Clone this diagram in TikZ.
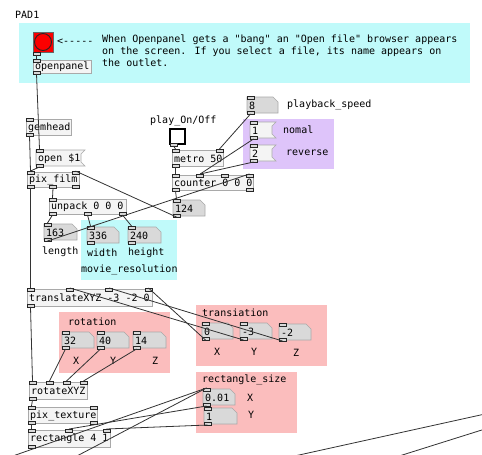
\documentclass[tikz,border=0pt]{standalone}
\usepackage{fontspec}
\newfontfamily\pdfont{DejaVu Sans Mono}
\usetikzlibrary{positioning}
\definecolor{Cyan}{HTML}{C0FAFA}
\definecolor{Lilac}{HTML}{DEC4FA}
\definecolor{Pink}{HTML}{FBBDBD}
\definecolor{NumFill}{HTML}{D9D9D9}
\definecolor{ObjFill}{HTML}{F4F4F4}
\definecolor{BoxLine}{HTML}{A9A9A9}
\definecolor{Wire}{HTML}{333333}
\definecolor{BangRed}{HTML}{FC0000}

\newcommand{\pdports}[7]{%
  \foreach \k in {1,...,#6}{%
    \pgfmathsetmacro{\px}{#2+(\k-1)*(#4-7)/max(#6-1,1)}%
    \draw[port] (\px,#3-1) rectangle ++(7,3);
    \coordinate (#1-i\k) at (\px+3.5,#3-1);
  }%
  \foreach \k in {1,...,#7}{%
    \pgfmathsetmacro{\px}{#2+(\k-1)*(#4-7)/max(#7-1,1)}%
    \draw[port] (\px,#3+#5-2) rectangle ++(7,3);
    \coordinate (#1-o\k) at (\px+3.5,#3+#5+1);
  }%
}
\newcommand{\pdobj}[8]{%
  \node[pdbox, fill=ObjFill, draw=BoxLine, minimum width=#4pt, minimum height=#5pt] (#1) at (#2,#3) {};
  \node[pdtext] (#1-t) at (#2+2,#3+#5/2+0.5) {#8};
  \pdports{#1}{#2}{#3}{#4}{#5}{#6}{#7}}
\newcommand{\pdnum}[5]{%
  \fill[numfill] (#2,#3) -- ++(#4-5,0) -- ++(5,5) -- (#2+#4,#3+16) -- (#2,#3+16) -- cycle;
  \node[pdbox, minimum width=#4pt, minimum height=16pt] (#1) at (#2,#3) {};
  \node[pdtext] (#1-t) at (#2+2,#3+8.5) {#5};
  \pdports{#1}{#2}{#3}{#4}{16}{1}{1}}
\newcommand{\pdmsg}[5]{%
  \fill[msgfill] (#2,#3) -- ++(#4+4,0) -- ++(-4,4) -- ++(0,8) -- ++(4,4) -- (#2,#3+16) -- cycle;
  \node[pdbox, minimum width=#4pt, minimum height=16pt] (#1) at (#2,#3) {};
  \node[pdtext] (#1-t) at (#2+2,#3+8.5) {#5};
  \pdports{#1}{#2}{#3}{#4}{16}{1}{1}}

\begin{document}
\begin{tikzpicture}[x=1pt,y=-1pt,
  pdbox/.style={anchor=north west, inner sep=0, outer sep=0},
  pdtext/.style={font=\pdfont\fontsize{10}{12}\selectfont, inner sep=0, anchor=west},
  port/.style={draw=black!85, fill=black!15, line width=0.6pt},
  numfill/.style={fill=NumFill, draw=BoxLine, line width=0.6pt},
  msgfill/.style={fill=ObjFill, draw=BoxLine, line width=0.6pt},
  wire/.style={draw=Wire, line width=0.8pt}]
  \useasboundingbox (0,0) rectangle (482,455);
  \clip (0,0) rectangle (482,455);
  \fill[white] (0,0) rectangle (482,455);
  % canvases
  \fill[Cyan] (19,23) rectangle (470,83);
  \fill[Lilac] (243,119) rectangle (334,169);
  \fill[Cyan] (81,220) rectangle (177,280);
  \fill[Pink] (59,312) rectangle (170,373);
  \fill[Pink] (196,305) rectangle (327,366);
  \fill[Pink] (196,372) rectangle (297,433);
  % comments
  \node[pdtext] (pad) at (15,15) {PAD1};
  \node[pdtext] (arrow) at (57,42) {<-----};
  \node[pdtext, align=left, anchor=north west] (note) at (102,35)
    {When Openpanel gets a "bang" an "Open file" browser appears\\
     on the screen. If you select a file, its name appears on\\
     the outlet.};
  \node[pdtext] (speed) at (287,105) {playback\_speed};
  \node[pdtext] (play) at (150,121) {play\_On/Off};
  \node[pdtext] (normal) at (283,130) {nomal};
  \node[pdtext] (rev) at (286,153) {reverse};
  \node[pdtext] (len) at (42,252) {length};
  \node[pdtext] (wid) at (87,253) {width};
  \node[pdtext] (hei) at (128,253) {height};
  \node[pdtext] (res) at (81,270) {movie\_resolution};
  \node[pdtext] (rotlab) at (68,322) {rotation};
  \node[pdtext] (rx) at (73,361) {X};
  \node[pdtext] (ry) at (110,361) {Y};
  \node[pdtext] (rz) at (152,361) {Z};
  \node[pdtext] (trlab) at (202,313) {transiation};
  \node[pdtext] (tx) at (214,352) {X};
  \node[pdtext] (ty) at (251,352) {Y};
  \node[pdtext] (tz) at (293,353) {Z};
  \node[pdtext] (szlab) at (202,380) {rectangle\_size};
  \node[pdtext] (sx) at (247,398) {X};
  \node[pdtext] (sy) at (248,415) {Y};
  % gui
  \node[pdbox, minimum size=20pt, fill=BangRed, draw=black!60] (bang) at (33,32) {};
  \node[circle, inner sep=0, minimum size=17pt, fill=BangRed, draw=black!85, line width=0.9pt] (bang-c) at (bang.center) {};
  \draw[port] (33,52) rectangle ++(7,3);
  \coordinate (bang-o1) at (36.5,55);
  \node[pdbox, minimum size=15pt, fill=white, draw=black, line width=1.3pt] (tgl) at (170,129) {};
  \draw[port] (170,143) rectangle ++(7,3);
  \coordinate (tgl-o1) at (173.5,146);
  % boxes
  \pdobj{openp}{33}{60}{58}{13}{1}{1}{openpanel}
  \pdobj{gem}{26}{119}{45}{16}{1}{1}{gemhead}
  \pdmsg{open}{36}{150}{45}{open \$1}
  \pdobj{film}{27}{172}{52}{15}{2}{3}{pix\_film}
  \pdobj{unpack}{49}{199}{77}{15}{1}{3}{unpack 0 0 0}
  \pdnum{n163}{44}{224}{33}{163}
  \pdnum{n336}{87}{227}{32}{336}
  \pdnum{n240}{128}{227}{33}{240}
  \pdnum{n8}{247}{97}{31}{8}
  \pdmsg{m1}{250}{122}{22}{1}
  \pdmsg{m2}{250}{145}{22}{2}
  \pdobj{metro}{172}{150}{51}{16}{2}{1}{metro 50}
  \pdobj{counter}{172}{175}{81}{15}{4}{2}{counter 0 0 0}
  \pdnum{n124}{173}{200}{32}{124}
  \pdobj{trans}{27}{289}{125}{17}{4}{1}{translateXYZ -3 -2 0}
  \pdnum{n32}{62}{332}{32}{32}
  \pdnum{n40}{97}{332}{32}{40}
  \pdnum{n14}{133}{332}{33}{14}
  \pdnum{nx}{202}{323}{31}{0}
  \pdnum{ny}{240}{323}{32}{-3}
  \pdnum{nz}{279}{324}{32}{-2}
  \pdnum{sw}{203}{389}{32}{0.01}
  \pdnum{sh}{204}{408}{33}{1}
  \pdobj{rot}{29}{382}{58}{17}{4}{1}{rotateXYZ}
  \pdobj{tex}{28}{407}{69}{16}{2}{2}{pix\_texture}
  \pdobj{rect}{28}{430}{82}{17}{3}{1}{rectangle 4 1}
  % free ends
  \coordinate (offA) at (10,457);
  \coordinate (offB) at (75,457);
  \coordinate (offC) at (290,457);
  \coordinate (offD) at (485,414);
  \coordinate (offE) at (396,457);
  \coordinate (offF) at (485,429);
  % wires
  \foreach \a/\b in {bang-o1/openp-i1, openp-o1/open-i1, gem-o1/film-i1,
      open-o1/film-i1, film-o1/trans-i1, film-o2/unpack-i1, n124-o1/film-i2,
      unpack-o1/n163-i1, unpack-o2/n336-i1, unpack-o3/n240-i1,
      n163-o1/counter-i4, tgl-o1/metro-i1, n8-o1/metro-i2, metro-o1/counter-i1,
      m1-o1/counter-i2, m2-o1/counter-i2, counter-o1/n124-i1,
      trans-o1/rot-i1, nx-o1/trans-i4, ny-o1/trans-i2, nz-o1/trans-i3,
      n32-o1/rot-i2, n40-o1/rot-i3, n14-o1/rot-i4, rot-o1/tex-i1,
      tex-o1/rect-i1, sw-o1/rect-i2, sh-o1/rect-i3,
      offA/sw-i1, offB/sw-i1, offC/offD, offE/offF}
    \draw[wire] (\a) -- (\b);
\end{tikzpicture}
\end{document}
